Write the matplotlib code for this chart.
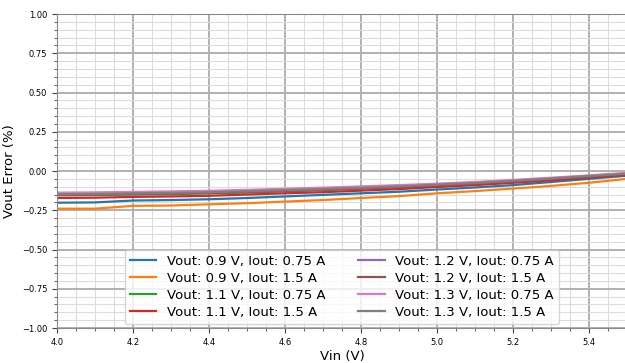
import numpy as np
import matplotlib
matplotlib.use("Agg")
import matplotlib.pyplot as plt
from matplotlib.ticker import AutoMinorLocator, MultipleLocator

# Input voltage sweep (V)
vin = [4.0, 4.1, 4.2, 4.3, 4.4, 4.5, 4.6, 4.7, 4.8, 4.9, 5.0, 5.1, 5.2, 5.3, 5.4, 5.5]

# Vout error (%) per operating point
err_09_075 = [-0.202, -0.200, -0.188, -0.185, -0.180, -0.172, -0.162, -0.152,
              -0.142, -0.132, -0.118, -0.105, -0.090, -0.070, -0.050, -0.030]
err_09_150 = [-0.240, -0.240, -0.222, -0.220, -0.212, -0.205, -0.195, -0.185,
              -0.172, -0.160, -0.142, -0.128, -0.112, -0.095, -0.075, -0.050]
err_11_075 = [-0.155, -0.153, -0.150, -0.147, -0.143, -0.137, -0.130, -0.122,
              -0.113, -0.104, -0.093, -0.081, -0.067, -0.052, -0.036, -0.020]
err_11_150 = [-0.172, -0.170, -0.165, -0.162, -0.158, -0.150, -0.142, -0.135,
              -0.125, -0.115, -0.102, -0.090, -0.075, -0.060, -0.042, -0.025]
err_12_075 = [-0.143, -0.141, -0.138, -0.135, -0.131, -0.125, -0.118, -0.111,
              -0.103, -0.094, -0.084, -0.073, -0.060, -0.046, -0.031, -0.015]
err_12_150 = [-0.152, -0.150, -0.146, -0.143, -0.139, -0.133, -0.126, -0.119,
              -0.110, -0.101, -0.090, -0.078, -0.065, -0.050, -0.034, -0.019]
err_13_075 = [-0.138, -0.136, -0.133, -0.130, -0.126, -0.120, -0.113, -0.106,
              -0.098, -0.090, -0.081, -0.070, -0.057, -0.043, -0.028, -0.012]
err_13_150 = [-0.148, -0.146, -0.142, -0.139, -0.135, -0.129, -0.122, -0.115,
              -0.107, -0.098, -0.087, -0.076, -0.063, -0.048, -0.032, -0.017]

labels = [
    "Vout: 0.9 V, Iout: 0.75 A",
    "Vout: 0.9 V, Iout: 1.5 A",
    "Vout: 1.1 V, Iout: 0.75 A",
    "Vout: 1.1 V, Iout: 1.5 A",
    "Vout: 1.2 V, Iout: 0.75 A",
    "Vout: 1.2 V, Iout: 1.5 A",
    "Vout: 1.3 V, Iout: 0.75 A",
    "Vout: 1.3 V, Iout: 1.5 A",
]
series = [err_09_075, err_09_150, err_11_075, err_11_150,
          err_12_075, err_12_150, err_13_075, err_13_150]

fig = plt.figure(figsize=(6.25, 3.63), dpi=100)
ax = fig.add_axes([0.091, 0.0964, 0.912, 0.865])

for ys, lab in zip(series, labels):
    ax.plot(vin, ys, linewidth=1.6, label=lab)

ax.set_xlim(4.0, 5.5)
ax.set_ylim(-1.0, 1.0)
ax.xaxis.set_major_locator(MultipleLocator(0.2))
ax.xaxis.set_minor_locator(AutoMinorLocator(4))
ax.yaxis.set_major_locator(MultipleLocator(0.25))
ax.yaxis.set_minor_locator(AutoMinorLocator(5))
ax.tick_params(axis="both", which="major", labelsize=6, length=3.5, color="#444444")
ax.tick_params(axis="both", which="minor", length=2, color="#444444")

ax.grid(True, which="major", color="#b0b0b0", linewidth=1.4)
ax.grid(True, which="minor", color="#dcdcdc", linewidth=0.8)
for s in ax.spines.values():
    s.set_color("#888888")

ax.set_xlabel("Vin (V)", fontsize=9.5, labelpad=2)
ax.set_ylabel("Vout Error (%)", fontsize=9.5, labelpad=4)
ax.legend(loc="lower center", ncol=2, fontsize=9.5, handlelength=2,
          columnspacing=2.5, labelspacing=0.3, borderaxespad=0.3)

fig.savefig("out.png", dpi=100)
